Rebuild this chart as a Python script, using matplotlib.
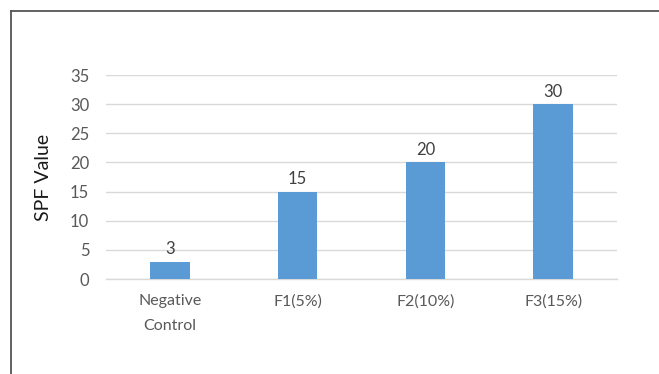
import matplotlib.pyplot as plt
from matplotlib.lines import Line2D

categories = ['Negative\nControl', 'F1(5%)', 'F2(10%)', 'F3(15%)']
spf_values = [3, 15, 20, 30]
y_ticks = [0, 5, 10, 15, 20, 25, 30, 35]

plt.rcParams['font.family'] = ['Lato', 'DejaVu Sans']

fig = plt.figure(figsize=(6.59, 3.74), dpi=100)
ax = fig.add_axes([106 / 659, 1 - 279 / 374, 511 / 659, 204 / 374])

x = range(len(categories))
bars = ax.bar(x, spf_values, width=0.31, color='#5B9BD5', zorder=3)

# value labels above bars
for xi, v in zip(x, spf_values):
    ax.text(xi, v + 0.7, str(v), ha='center', va='bottom', fontsize=12, color='#404040')

ax.set_xlim(-0.5, len(categories) - 0.5)
ax.set_ylim(0, 35)
ax.set_yticks(y_ticks)
ax.set_xticks(list(x))
ax.set_xticklabels(categories, fontsize=11.5, color='#595959', linespacing=2.0)
ax.tick_params(axis='y', labelsize=12, labelcolor='#595959', length=0, pad=12)
ax.tick_params(axis='x', length=0, pad=11)

ax.grid(axis='y', color='#D9D9D9', linewidth=1, zorder=0)
for s in ['top', 'right', 'left']:
    ax.spines[s].set_visible(False)
ax.spines['bottom'].set_color('#D9D9D9')
ax.spines['bottom'].set_linewidth(1)

ax.set_ylabel('SPF Value', fontsize=14, color='#1a1a1a', labelpad=13)

# frame lines (top and left edge of the original chart box)
fig.add_artist(Line2D([11 / 659, 11 / 659], [0, 1 - 11 / 374], color='#555555', lw=1.3, transform=fig.transFigure))
fig.add_artist(Line2D([11 / 659, 1], [1 - 11 / 374, 1 - 11 / 374], color='#555555', lw=1.3, transform=fig.transFigure))

plt.savefig('out.png', dpi=100)
plt.close()
